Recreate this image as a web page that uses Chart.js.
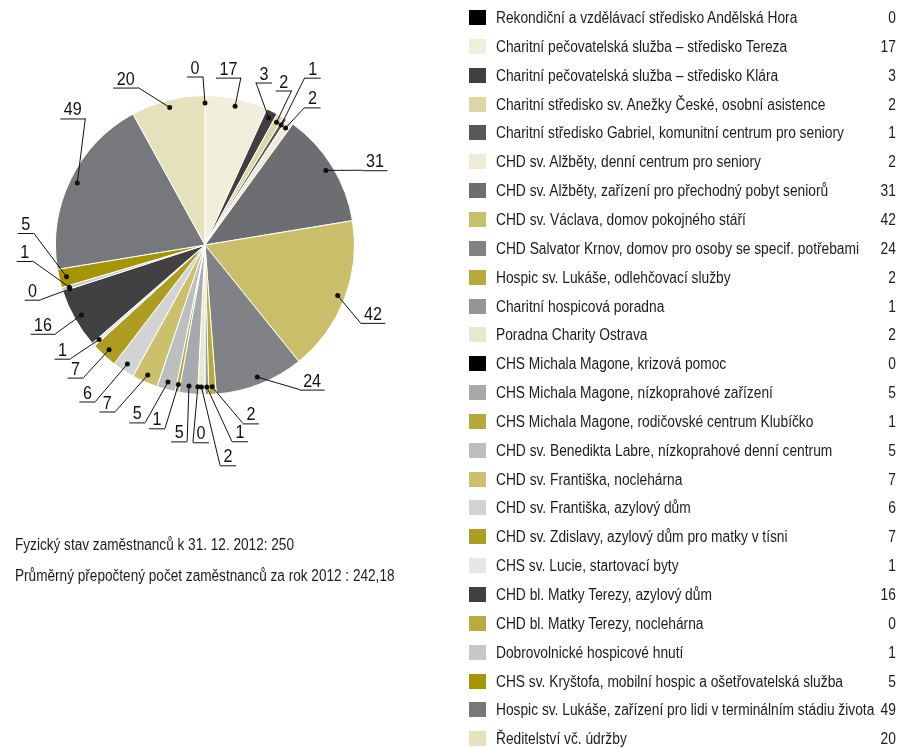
<!DOCTYPE html>
<html>
<head>
<meta charset="utf-8">
<script src="https://cdn.jsdelivr.net/npm/chart.js@4.4.1/dist/chart.umd.min.js"></script>
<style>
  html, body { margin: 0; padding: 0; background: #fff; }
  body { width: 899px; height: 748px; position: relative; overflow: hidden;
         font-family: "Liberation Sans Narrow", "Arial Narrow", "Liberation Sans", sans-serif; color: #1c1c1c; }
  #wrap { position: absolute; left: 0; top: 0; width: 899px; height: 748px; }
  .row { position: absolute; left: 469px; width: 427px; height: 16px; font-size: 16px; line-height: 16px; }
  .sw { position: absolute; left: 0; top: 0; width: 17px; height: 15px; }
  .lbl { position: absolute; left: 27px; top: 0; white-space: nowrap; transform: scaleX(0.86); transform-origin: 0 50%; }
  .val { position: absolute; right: 0; top: 0; transform: scaleX(0.86); transform-origin: 100% 50%; }
  .note { position: absolute; left: 15px; font-size: 16px; line-height: 16px; white-space: nowrap;
          transform: scaleX(0.85); transform-origin: 0 50%; }
</style>
</head>
<body>
<div id="wrap"><canvas id="chart1"></canvas></div>
<div id="legend"></div>
<div id="notes"></div>
<script>
const labels = [
    'Rekondiční a vzdělávací středisko Andělská Hora',
    'Charitní pečovatelská služba – středisko Tereza',
    'Charitní pečovatelská služba – středisko Klára',
    'Charitní středisko sv. Anežky České, osobní asistence',
    'Charitní středisko Gabriel, komunitní centrum pro seniory',
    'CHD sv. Alžběty, denní centrum pro seniory',
    'CHD sv. Alžběty, zařízení pro přechodný pobyt seniorů',
    'CHD sv. Václava, domov pokojného stáří',
    'CHD Salvator Krnov, domov pro osoby se specif. potřebami',
    'Hospic sv. Lukáše, odlehčovací služby',
    'Charitní hospicová poradna',
    'Poradna Charity Ostrava',
    'CHS Michala Magone, krizová pomoc',
    'CHS Michala Magone, nízkoprahové zařízení',
    'CHS Michala Magone, rodičovské centrum Klubíčko',
    'CHD sv. Benedikta Labre, nízkoprahové denní centrum',
    'CHD sv. Františka, noclehárna',
    'CHD sv. Františka, azylový dům',
    'CHD sv. Zdislavy, azylový dům pro matky v tísni',
    'CHS sv. Lucie, startovací byty',
    'CHD bl. Matky Terezy, azylový dům',
    'CHD bl. Matky Terezy, noclehárna',
    'Dobrovolnické hospicové hnutí',
    'CHS sv. Kryštofa, mobilní hospic a ošetřovatelská služba',
    'Hospic sv. Lukáše, zařízení pro lidi v terminálním stádiu života',
    'Ředitelství vč. údržby'
];
const values = [0, 17, 3, 2, 1, 2, 31, 42, 24, 2, 1, 2, 0, 5, 1, 5, 7, 6, 7, 1, 16, 0, 1, 5, 49, 20];
const colors = [
    '#000000', '#f1eedb', '#404041', '#ddd7a6', '#58585a', '#efebd6', '#6d6e71', '#c9bf6b', '#808285',
    '#b7a93a', '#939598', '#ebe7cd', '#000000', '#a7a9ac', '#b5a73a', '#bcbec0', '#cbc16d', '#d1d3d4',
    '#ad9d20', '#e6e7e8', '#414042', '#b9ab3d', '#c7c8ca', '#a59500', '#77787b', '#e6e1bd'
];
const notes = ['Fyzický stav zaměstnanců k 31. 12. 2012: 250', 'Průměrný přepočtený počet zaměstnanců za rok 2012 : 242,18'];

// label placement: [angle from top in degrees, distance in radii, underline side]
const labelLayout = [
    [359.3, 1.127, 'L'], [12.1, 1.145, 'L'], [17.4, 1.139, 'R'], [29.3, 1.185, 'L'], [30.8, 1.303, 'R'],
    [35.9, 1.136, 'R'], [64.6, 1.166, 'R'], [116.6, 1.163, 'R'], [146.8, 1.156, 'R'], [168.0, 1.22, 'R'],
    [172.2, 1.325, 'R'], [176.1, 1.477, 'R'], [183.5, 1.322, 'R'], [185.2, 1.319, 'L'], [192.3, 1.255, 'L'],
    [198.6, 1.252, 'L'], [208.3, 1.265, 'L'], [215.0, 1.278, 'L'], [222.5, 1.203, 'L'], [229.8, 1.178, 'L'],
    [239.3, 1.163, 'L'], [251.6, 1.159, 'L'], [264.7, 1.158, 'L'], [274.0, 1.149, 'L'], [316.6, 1.165, 'L'],
    [337.0, 1.144, 'L']
];

// legend rows
const legendEl = document.getElementById('legend');
labels.forEach((name, i) => {
    const row = document.createElement('div');
    row.className = 'row';
    row.style.top = (10 + i * 28.85) + 'px';
    row.innerHTML = '<span class="sw" style="background:' + colors[i] + '"></span>' +
        '<span class="lbl">' + name + '</span><span class="val">' + values[i] + '</span>';
    legendEl.appendChild(row);
});
const notesEl = document.getElementById('notes');
notes.forEach((t, i) => {
    const n = document.createElement('div');
    n.className = 'note';
    n.style.top = (537 + i * 31) + 'px';
    n.textContent = t;
    notesEl.appendChild(n);
});

const SQUEEZE = 0.85;
const leaderLabels = {
    id: 'leaderLabels',
    afterDatasetsDraw(chart) {
        const ctx = chart.ctx;
        const meta = chart.getDatasetMeta(0);
        ctx.save();
        ctx.font = '19px "Liberation Sans Narrow", "Arial Narrow", "Liberation Sans", sans-serif';
        ctx.textAlign = 'center';
        ctx.textBaseline = 'alphabetic';
        meta.data.forEach((arc, i) => {
            const p = arc.getProps(['x', 'y', 'startAngle', 'endAngle', 'outerRadius'], true);
            const mid = (p.startAngle + p.endAngle) / 2;
            const dx = p.x + Math.cos(mid) * p.outerRadius * 0.95;
            const dy = p.y + Math.sin(mid) * p.outerRadius * 0.95;
            const lay = labelLayout[i];
            const a = (lay[0] - 90) * Math.PI / 180;
            const ax = p.x + Math.cos(a) * p.outerRadius * lay[1];
            const ay = p.y + Math.sin(a) * p.outerRadius * lay[1];
            const txt = String(values[i]);
            const w = ctx.measureText(txt).width * SQUEEZE + 7;
            const x0 = lay[2] === 'L' ? ax - w : ax;
            ctx.strokeStyle = '#111';
            ctx.lineWidth = 1;
            ctx.beginPath();
            ctx.moveTo(dx, dy);
            ctx.lineTo(ax, ay);
            ctx.moveTo(x0, ay + 0.5);
            ctx.lineTo(x0 + w, ay + 0.5);
            ctx.stroke();
            ctx.fillStyle = '#111';
            ctx.beginPath();
            ctx.arc(dx, dy, 2.5, 0, Math.PI * 2);
            ctx.fill();
            ctx.save();
            ctx.translate(x0 + w / 2, ay - 3);
            ctx.scale(SQUEEZE, 1);
            ctx.fillText(txt, 0, 0);
            ctx.restore();
        });
        ctx.restore();
    }
};

const data = {
    labels: labels,
    datasets: [{
        data: values,
        backgroundColor: colors,
        borderColor: '#ffffff',
        borderWidth: 1
    }]
};

const config1 = {
    type: 'pie',
    data: data,
    options: {
        responsive: true,
        maintainAspectRatio: false,
        animation: false,
        layout: {
            padding: { left: 55, top: 95, right: 544, bottom: 353 }
        },
        plugins: {
            legend: { display: false },
            tooltip: { enabled: false }
        }
    },
    plugins: [leaderLabels]
};

const myChart1 = new Chart(document.getElementById('chart1'), config1);
</script>
</body>
</html>
